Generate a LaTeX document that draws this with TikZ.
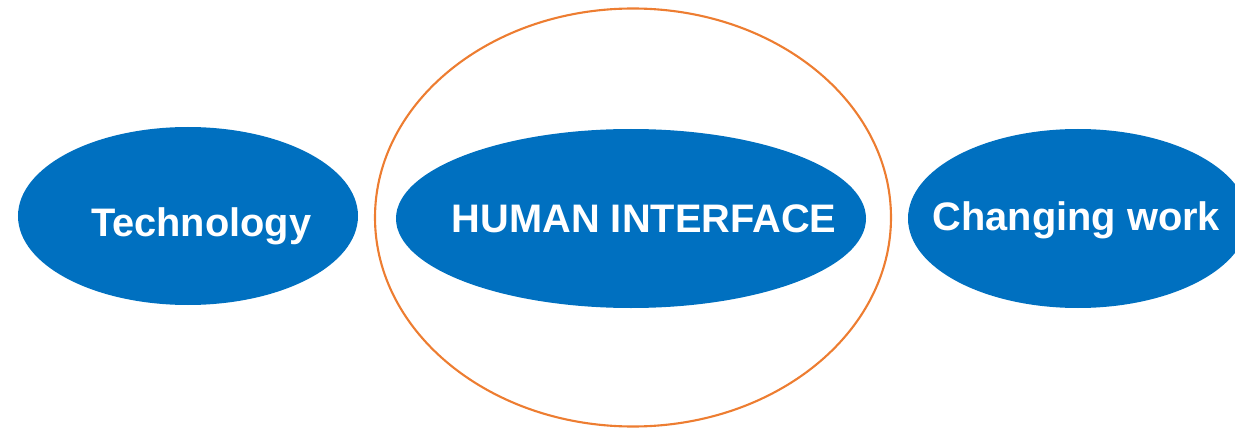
\documentclass[tikz,border=0pt]{standalone}
\usepackage{fontspec}
\setmainfont{Liberation Sans}
\usepackage{xcolor}
\usepackage{tikz}
\usetikzlibrary{positioning,shapes.geometric}
\definecolor{OfficeBlue}{HTML}{0070C0}
\definecolor{RingOrange}{HTML}{ED7D31}

\begin{document}
\begin{tikzpicture}[
  blob/.style={
    ellipse, fill=OfficeBlue, draw=none, inner sep=0pt,
    minimum width=8.5cm, minimum height=4.45cm
  },
  blobtext/.style={
    anchor=base, text=white, inner sep=0pt,
    font=\bfseries\fontsize{28.3}{34}\selectfont
  },
  ring/.style={
    ellipse, draw=RingOrange, line width=1.5pt, inner sep=0pt,
    minimum width=12.9cm, minimum height=10.45cm
  },
]
\useasboundingbox (0,0) rectangle (30.875,10.7);
\clip (0,0) rectangle (30.875,10.7);

% ---------- Outer ring ----------
\node[ring] (ring) at (15.825,5.2625) {};

% ---------- Ellipses ----------
\node[blob] (tech) at (4.7,5.3) {};
\node[blob, minimum width=11.75cm, minimum height=4.475cm] (human) at (15.775,5.2375) {};
\node[blob, minimum height=4.475cm] (work) at (26.95,5.2375) {};

% ---------- Labels ----------
\node[blobtext, xshift=0.33cm, yshift=-0.5cm] (techlbl) at (tech.center) {Technology};
\node[blobtext, xshift=0.33cm, yshift=-0.34cm] (humanlbl) at (human.center) {HUMAN INTERFACE};
\node[blobtext, xshift=-0.04cm, yshift=-0.29cm] (worklbl) at (work.center) {Changing work};

\end{tikzpicture}
\end{document}
